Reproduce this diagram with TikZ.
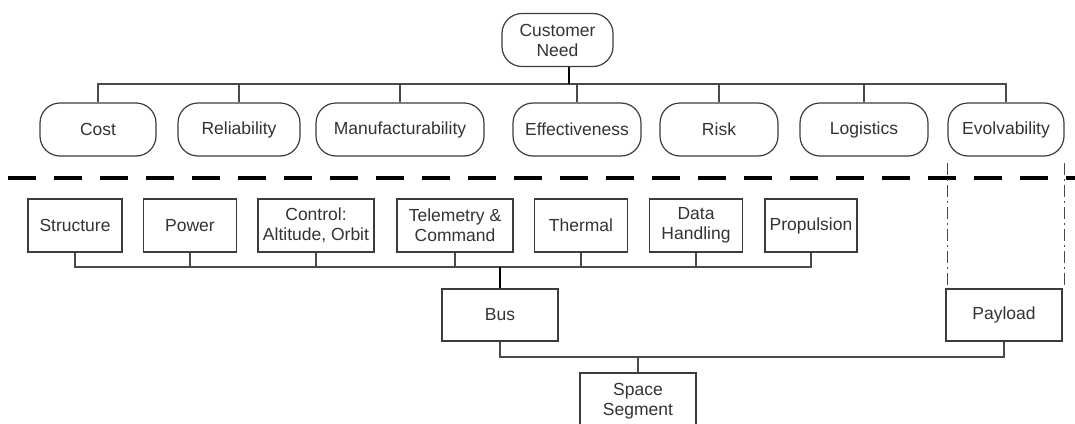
\documentclass[tikz,border=0pt]{standalone}
\usepackage{fontspec}
\setmainfont{Liberation Sans}
\usetikzlibrary{positioning}

\definecolor{boxgray}{HTML}{3C3C3C}
\definecolor{linegray}{HTML}{4A4A4A}
\definecolor{textgray}{HTML}{333333}

\begin{document}
\begin{tikzpicture}[
x=1pt, y=-1pt,
font=\fontsize{17.5}{20}\selectfont,
need/.style={draw=boxgray, line width=1.2pt, rounded corners=20pt,
             minimum height=53pt, align=center, inner sep=2pt, text=textgray},
part/.style={draw=boxgray, line width=1.3pt,
             minimum height=53pt, align=center, inner sep=2pt, text=textgray},
link/.style={draw=linegray, line width=1.2pt},
trunk/.style={draw=black, line width=2.4pt},
divider/.style={draw=black, line width=3.5pt, dash pattern=on 28pt off 18pt},
trace/.style={draw=linegray, line width=1.1pt, dash pattern=on 12pt off 4pt on 2pt off 4pt}
]
\useasboundingbox (0,0) rectangle (1075,423);

% customer need and its attributes
\node[need, minimum width=111pt] (need) at (557.5,40) {Customer\\Need};
\foreach \n/\x/\w/\t in {cost/98/116/Cost, rel/239/122/Reliability,
    manu/400/168/Manufacturability, eff/577/128/Effectiveness,
    risk/719/118/Risk, logi/864/128/Logistics, evol/1006/116/Evolvability} {
  \node[need, minimum width=\w pt] (\n) at (\x,129.5) {\t};
}
\coordinate (topjoin) at (569,84);
\foreach \n in {cost, rel, manu, eff, risk, logi, evol} {
  \draw[link] (\n.north) |- (topjoin);
}
\draw[trunk] (need.south -| topjoin) -- (topjoin);

% separator
\coordinate (sepleft) at (8,178);
\coordinate (sepright) at (1075,178);
\draw[divider] (sepleft) -- (sepright);

% subsystems of the bus
\foreach \n/\x/\w/\t in {struct/75/94/Structure, power/190/93/Power,
    ctrl/316/116/{Control:\\Altitude, Orbit}, telem/455/116/{Telemetry \&\\Command},
    therm/581/93/Thermal, data/696/93/{Data\\Handling}, prop/811/92/Propulsion} {
  \node[part, minimum width=\w pt] (\n) at (\x,225.5) {\t};
}
\node[part, minimum width=116pt, minimum height=52pt] (bus) at (500,315) {Bus};
\node[part, minimum width=116pt, minimum height=52pt] (payload) at (1004,315) {Payload};
% cut off by the page edge
\node[part, minimum width=116pt, minimum height=56pt] (segment) at (638,401) {Space\\Segment};

\coordinate (busjoin) at (500,267);
\foreach \n in {struct, power, ctrl, telem, therm, data, prop} {
  \draw[link] (\n.south) |- (busjoin);
}
\draw[trunk] (busjoin) -- (bus.north);

% bus and payload into the segment
\coordinate (segjoin) at (638,357);
\draw[link] (bus.south) |- (segjoin);
\draw[link] (payload.south) |- (segjoin);
\draw[link] (segjoin) -- (segment.north);

% evolvability traced to payload
\draw[trace] ([yshift=-6pt]evol.south west) -- (evol.south west |- payload.north);
\draw[trace] ([yshift=-6pt]evol.south east) -- (evol.south east |- payload.north);

\end{tikzpicture}
\end{document}
